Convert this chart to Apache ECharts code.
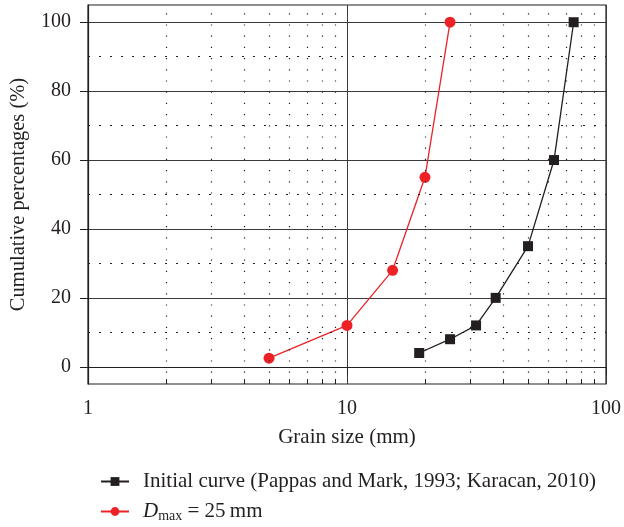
<!DOCTYPE html>
<html><head><meta charset="utf-8">
<script src="https://cdn.jsdelivr.net/npm/echarts@6/dist/echarts.min.js"></script>
<style>html,body{margin:0;padding:0;background:#fff}#c{width:624px;height:527px}</style>
</head><body><div id="c"></div>
<script>
var initialX = [19, 25, 31.5, 37.5, 50, 63, 75];
var initialY = [4, 8, 12, 20, 35, 60, 100];
var dmaxX = [5, 10, 15, 20, 25];
var dmaxY = [2.5, 12, 28, 55, 100];
var minorXGrid = [2,3,4,5,6,7,8,9,20,30,40,50,60,70,80,90];
var minorYGrid = [10,30,50,70,90];
var yTicks = [0,20,40,60,80,100];

var FONT = 'Liberation Serif';
var TXT = '#231f20';
function pairs(xs, ys){ return xs.map(function(x,i){return [x, ys[i]];}); }

var chart = echarts.init(document.getElementById('c'), null, {renderer:'canvas'});
chart.setOption({
  animation:false,
  textStyle:{fontFamily:FONT, color:TXT},
  grid:{left:87, right:17, top:5, bottom:143, show:true, borderColor:'#231f20', borderWidth:1.2, backgroundColor:'transparent'},
  xAxis:[{
    type:'log', logBase:10, min:1, max:100,
    name:'Grain size (mm)', nameLocation:'middle', nameGap:43,
    nameTextStyle:{fontFamily:FONT, fontSize:21, color:TXT},
    axisLine:{show:true, lineStyle:{color:'#231f20', width:1.2}},
    axisTick:{show:true, inside:false, length:8, lineStyle:{color:'#231f20'}},
    axisLabel:{fontFamily:FONT, fontSize:20, color:TXT, margin:15},
    splitLine:{show:true, lineStyle:{color:'#3a3a3a', width:1}}
  },{
    type:'log', logBase:10, min:1, max:100, position:'bottom',
    axisLine:{show:false},
    axisTick:{show:true, inside:true, length:5, customValues:minorXGrid, lineStyle:{color:'#231f20', width:1}},
    axisLabel:{show:false},
    splitLine:{show:false}
  }],
  yAxis:{
    type:'value', min:-5, max:105, splitNumber:5,
    name:'Cumulative percentages (%)', nameLocation:'middle', nameGap:59,
    nameTextStyle:{fontFamily:FONT, fontSize:20.5, color:TXT},
    axisLine:{show:true, lineStyle:{color:'#231f20', width:1.2}},
    axisTick:{show:true, inside:false, length:8, customValues:yTicks, lineStyle:{color:'#231f20'}},
    axisLabel:{fontFamily:FONT, fontSize:20, color:TXT, margin:17, customValues:yTicks},
    splitLine:{show:true, lineStyle:{color:'#3a3a3a', width:1}}
  },
  legend:{
    orient:'vertical', left:100, top:471, padding:0, itemGap:9, itemWidth:28, itemHeight:11,
    textStyle:{fontFamily:FONT, fontSize:21, color:TXT, padding:[0,0,0,9],
      rich:{i:{fontFamily:FONT, fontSize:21, fontStyle:'italic', color:TXT},
            s:{fontFamily:FONT, fontSize:14, color:TXT, verticalAlign:'bottom', padding:[9,0,0,0]},
            n:{fontFamily:FONT, fontSize:21, color:TXT}}},
    formatter:function(name){
      if(name === 'Dmax') return '{i|D}{s|max}{n| = 25\u2009mm}';
      return name;
    },
    data:['Initial curve (Pappas and Mark, 1993; Karacan, 2010)','Dmax']
  },
  series:[
    {
      name:'grid', type:'line', data:[], silent:true, z:1,
      markLine:{silent:true, symbol:'none', label:{show:false}, animation:false,
        data: minorXGrid.map(function(v){return {xAxis:v, lineStyle:{color:'#231f20', width:1.2, type:[1.2,10]}};})
          .concat(minorYGrid.map(function(v){return {yAxis:v, lineStyle:{color:'#231f20', width:1.2, type:[2,9]}};}))
      }
    },
    {
      name:'Initial curve (Pappas and Mark, 1993; Karacan, 2010)', type:'line', z:3,
      data: pairs(initialX, initialY),
      symbol:'rect', symbolSize:10,
      lineStyle:{color:'#231f20', width:1.3},
      itemStyle:{color:'#231f20'}
    },
    {
      name:'Dmax', type:'line', z:4,
      data: pairs(dmaxX, dmaxY),
      symbol:'circle', symbolSize:11,
      lineStyle:{color:'#ec2227', width:1.3},
      itemStyle:{color:'#ec2227'}
    }
  ]
});
</script></body></html>
